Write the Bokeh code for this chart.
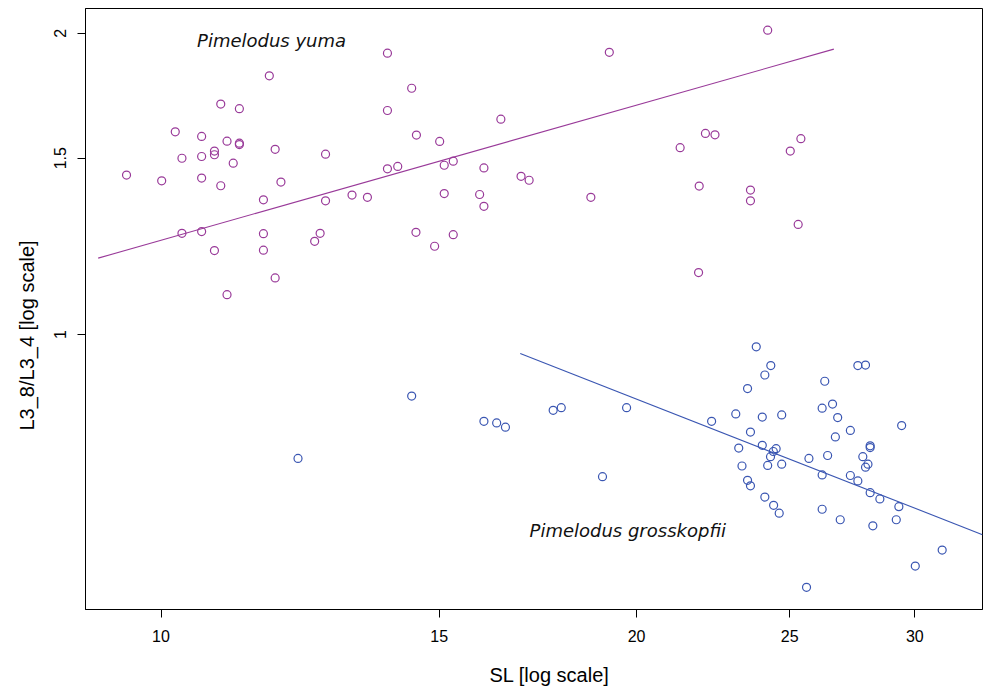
from bokeh.plotting import figure
from bokeh.models import FixedTicker, CustomJSTickFormatter, Label, Title
from bokeh.embed import file_html
from bokeh.resources import INLINE

# ---- data: Pimelodus yuma ----
yuma_sl = [9.51, 10.01, 10.21, 10.31, 10.31, 10.61, 10.61, 10.61, 10.61, 10.81,
           10.81, 10.81, 10.91, 10.91, 11.01, 11.01, 11.11, 11.21, 11.21, 11.21,
           11.61, 11.61, 11.61, 11.71, 11.81, 11.81, 11.91, 12.51, 12.61, 12.71,
           12.71, 13.21, 13.51, 13.91, 13.91, 13.91, 14.12, 14.41, 14.51, 14.50,
           14.90, 15.01, 15.11, 15.11, 15.31, 15.31, 15.91, 16.01, 16.01, 16.41,
           16.90, 17.10, 18.71, 19.22, 21.31, 21.91, 21.89, 22.11, 22.42, 23.61,
           23.61, 24.21, 25.02, 25.31, 25.41]
yuma_ratio = [1.443, 1.424, 1.594, 1.500, 1.262, 1.577, 1.506, 1.433, 1.267, 1.525,
              1.512, 1.213, 1.699, 1.408, 1.560, 1.096, 1.483, 1.681, 1.553, 1.548,
              1.363, 1.261, 1.214, 1.813, 1.531, 1.139, 1.420, 1.239, 1.262, 1.514,
              1.360, 1.378, 1.371, 1.910, 1.674, 1.464, 1.472, 1.762, 1.582, 1.265,
              1.225, 1.559, 1.476, 1.383, 1.490, 1.258, 1.380, 1.343, 1.467, 1.641,
              1.439, 1.426, 1.371, 1.914, 1.537, 1.407, 1.153, 1.588, 1.583, 1.394,
              1.360, 2.014, 1.525, 1.288, 1.569]

# ---- data: Pimelodus grosskopfii ----
gros_sl = [12.21, 14.41, 16.01, 16.31, 16.52, 17.71, 17.92, 19.03, 19.71, 22.31,
           23.11, 23.21, 23.32, 23.51, 23.51, 23.61, 23.61, 23.81, 24.02, 24.02,
           24.11, 24.11, 24.21, 24.31, 24.32, 24.41, 24.42, 24.51, 24.62, 24.71,
           24.71, 25.62, 25.71, 26.21, 26.21, 26.21, 26.31, 26.42, 26.61, 26.72,
           26.81, 26.91, 27.31, 27.31, 27.61, 27.61, 27.81, 27.92, 27.92, 28.02,
           28.11, 28.11, 28.11, 28.22, 28.51, 29.20, 29.31, 29.43, 30.02, 31.22]
gros_ratio = [0.752, 0.868, 0.819, 0.816, 0.808, 0.840, 0.845, 0.721, 0.845, 0.819,
              0.833, 0.770, 0.739, 0.883, 0.715, 0.799, 0.706, 0.972, 0.827, 0.775,
              0.911, 0.688, 0.740, 0.755, 0.931, 0.764, 0.675, 0.769, 0.663, 0.831,
              0.742, 0.559, 0.752, 0.844, 0.724, 0.669, 0.898, 0.757, 0.852, 0.790,
              0.826, 0.653, 0.802, 0.723, 0.931, 0.714, 0.755, 0.932, 0.737, 0.742,
              0.774, 0.771, 0.695, 0.644, 0.685, 0.653, 0.673, 0.811, 0.587, 0.609]

# ---- fitted lines (straight in log-log) ----
yuma_fit_x = [9.125, 26.66]
yuma_fit_y = [1.192, 1.928]
gros_fit_x = [16.88, 33.11]
gros_fit_y = [0.957, 0.631]

x_ticks = [10, 15, 20, 25, 30]
y_ticks = [1, 1.5, 2]

PURPLE = "#993A99"
BLUE = "#3A56B2"

p = figure(width=987, height=691, x_axis_type="log", y_axis_type="log",
           x_range=(8.958, 33.11), y_range=(0.5312, 2.1168),
           output_backend="svg", toolbar_location=None,
           min_border_left=85, min_border_right=5, min_border_top=8,
           min_border_bottom=82)
p.background_fill_color = "white"
p.border_fill_color = "white"
p.xgrid.visible = False
p.ygrid.visible = False
p.outline_line_color = "black"
p.outline_line_width = 1
p.outline_line_alpha = 1

for ax in (p.xaxis[0], p.yaxis[0]):
    ax.axis_line_color = "black"
    ax.major_tick_line_color = "black"
    ax.major_tick_out = 8
    ax.major_tick_in = 0
    ax.minor_tick_out = 0
    ax.minor_tick_in = 0
    ax.minor_tick_line_color = None
    ax.major_label_text_font = "Liberation Sans"
    ax.major_label_text_font_size = "16px"
    ax.major_label_text_color = "black"
    ax.formatter = CustomJSTickFormatter(code="return String(tick);")

p.xaxis.ticker = FixedTicker(ticks=x_ticks)
p.yaxis.ticker = FixedTicker(ticks=y_ticks)
p.xaxis.major_label_standoff = 12
p.yaxis.major_label_standoff = 11
p.yaxis.major_label_orientation = "vertical"

# invisible spacer label under the x axis (keeps room for the title below)
p.xaxis.axis_label = "SL [log scale]"
p.xaxis.axis_label_text_font_size = "10px"
p.xaxis.axis_label_text_alpha = 0
p.xaxis.axis_label_standoff = 5

p.scatter(yuma_sl, yuma_ratio, marker="circle", size=8, fill_color=None,
          line_color=PURPLE, line_width=1.2)
p.scatter(gros_sl, gros_ratio, marker="circle", size=8, fill_color=None,
          line_color=BLUE, line_width=1.2)
p.line(yuma_fit_x, yuma_fit_y, line_color=PURPLE, line_width=1.1)
p.line(gros_fit_x, gros_fit_y, line_color=BLUE, line_width=1.1)

p.add_layout(Label(x=10.539, y=1.968, text="Pimelodus yuma",
                   text_font="DejaVu Sans", text_font_style="italic",
                   text_font_size="18px", text_color="#111111",
                   text_align="left", text_baseline="alphabetic"))
p.add_layout(Label(x=17.11, y=0.6375, text="Pimelodus grosskopfii",
                   text_font="DejaVu Sans", text_font_style="italic",
                   text_font_size="18px", text_color="#111111",
                   text_align="left", text_baseline="alphabetic"))

# axis titles (offset from the frame centre, as in the original)
p.add_layout(Title(text="SL [log scale]", align="left", offset=404,
                   vertical_align="top", standoff=0,
                   text_font="Liberation Sans", text_font_size="20px",
                   text_font_style="normal", text_color="black"), "below")
p.add_layout(Title(text="L3_8/L3_4 [log scale]", align="left", offset=179,
                   vertical_align="top", standoff=24,
                   text_font="Liberation Sans", text_font_size="20px",
                   text_font_style="normal", text_color="black"), "left")

open("out.html", "w").write(file_html(p, INLINE))
